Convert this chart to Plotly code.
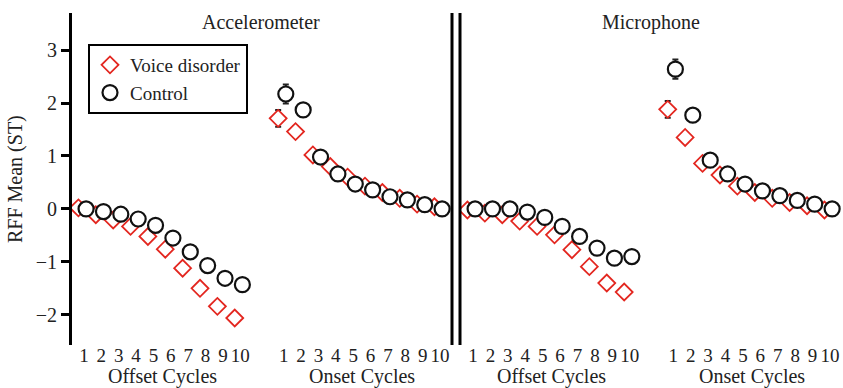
import plotly.graph_objects as go

# ---------------- data ----------------
cycles = list(range(1, 11))
cycle_labels = [str(c) for c in cycles]
y_ticks = [-2, -1, 0, 1, 2, 3]

# Accelerometer
acc_offset_vd = [0.02, -0.11, -0.21, -0.33, -0.52, -0.76, -1.12, -1.50, -1.84, -2.06]
acc_offset_ctrl = [0.0, -0.05, -0.10, -0.19, -0.31, -0.55, -0.81, -1.07, -1.31, -1.43]
acc_onset_vd = [1.71, 1.46, 1.02, 0.80, 0.60, 0.43, 0.31, 0.20, 0.09, 0.04]
acc_onset_ctrl = [2.17, 1.87, 0.98, 0.66, 0.47, 0.36, 0.23, 0.17, 0.08, 0.0]
acc_offset_vd_err = [0.03, 0.03, 0.04, 0.04, 0.05, 0.05, 0.06, 0.07, 0.07, 0.08]
acc_offset_ctrl_err = [0.03, 0.03, 0.03, 0.04, 0.04, 0.05, 0.05, 0.06, 0.06, 0.07]
acc_onset_vd_err = [0.16, 0.10, 0.07, 0.05, 0.04, 0.04, 0.03, 0.03, 0.03, 0.03]
acc_onset_ctrl_err = [0.18, 0.10, 0.07, 0.05, 0.04, 0.04, 0.03, 0.03, 0.03, 0.03]

# Microphone
mic_offset_vd = [-0.02, -0.08, -0.11, -0.23, -0.33, -0.49, -0.77, -1.09, -1.40, -1.57]
mic_offset_ctrl = [0.0, 0.0, 0.0, -0.06, -0.16, -0.33, -0.52, -0.74, -0.93, -0.90]
mic_onset_vd = [1.88, 1.35, 0.86, 0.64, 0.43, 0.31, 0.20, 0.12, 0.06, -0.02]
mic_onset_ctrl = [2.64, 1.77, 0.92, 0.66, 0.47, 0.34, 0.25, 0.16, 0.09, 0.0]
mic_offset_vd_err = [0.03, 0.03, 0.04, 0.04, 0.05, 0.05, 0.06, 0.07, 0.07, 0.08]
mic_offset_ctrl_err = [0.03, 0.03, 0.03, 0.04, 0.04, 0.05, 0.05, 0.06, 0.06, 0.07]
mic_onset_vd_err = [0.16, 0.10, 0.07, 0.05, 0.04, 0.04, 0.03, 0.03, 0.03, 0.03]
mic_onset_ctrl_err = [0.18, 0.10, 0.07, 0.05, 0.04, 0.04, 0.03, 0.03, 0.03, 0.03]

panel_titles = ["Accelerometer", "Microphone"]
group_titles = ["Offset Cycles", "Onset Cycles"]
series_names = ["Voice disorder", "Control"]

# ---------------- layout helpers ----------------
ONSET_SHIFT = 11.5
VD_DX = -0.32
CT_DX = 0.12
RED = "#e3261f"
BLACK = "#111111"
FONT = "Liberation Serif, Times New Roman, serif"
FS = 20
FS_TICK = 19
FS_LEG = 19

tick_vals = cycles + [c + ONSET_SHIFT for c in cycles]
tick_text = cycle_labels + cycle_labels

fig = go.Figure()


def add_panel(xa, ya, off_vd, off_ct, on_vd, on_ct, e_off_vd, e_off_ct, e_on_vd, e_on_ct, legend):
    x_vd = [c + VD_DX for c in cycles] + [c + ONSET_SHIFT + VD_DX for c in cycles]
    x_ct = [c + CT_DX for c in cycles] + [c + ONSET_SHIFT + CT_DX for c in cycles]
    fig.add_trace(go.Scatter(
        x=x_vd, y=off_vd + on_vd, mode="markers", name=series_names[0],
        xaxis=xa, yaxis=ya, showlegend=legend,
        marker=dict(symbol="diamond", size=13, color="white",
                    line=dict(color=RED, width=1.8)),
        error_y=dict(type="data", array=e_off_vd + e_on_vd, color="#222",
                     thickness=2, width=3),
    ))
    fig.add_trace(go.Scatter(
        x=x_ct, y=off_ct + on_ct, mode="markers", name=series_names[1],
        xaxis=xa, yaxis=ya, showlegend=legend,
        marker=dict(symbol="circle", size=15, color="white",
                    line=dict(color=BLACK, width=2.2)),
        error_y=dict(type="data", array=e_off_ct + e_on_ct, color="#222",
                     thickness=2, width=3),
    ))


add_panel("x", "y", acc_offset_vd, acc_offset_ctrl, acc_onset_vd, acc_onset_ctrl,
          acc_offset_vd_err, acc_offset_ctrl_err, acc_onset_vd_err, acc_onset_ctrl_err, True)
add_panel("x2", "y2", mic_offset_vd, mic_offset_ctrl, mic_onset_vd, mic_onset_ctrl,
          mic_offset_vd_err, mic_offset_ctrl_err, mic_onset_vd_err, mic_onset_ctrl_err, False)

W, H = 843, 388
ML, MR, MT, MB = 72, 2, 13, 43
pw = W - ML - MR
ph = H - MT - MB
d1 = (452 - ML) / pw
d2 = (460 - ML) / pw
y_range = [-2.57, 3.70]

xcommon = dict(showline=False, showgrid=False, zeroline=False, ticks="",
               tickvals=tick_vals, ticktext=tick_text, ticklabelstandoff=-3,
               tickfont=dict(family=FONT, size=FS_TICK, color="#222"))

fig.update_layout(
    width=W, height=H,
    margin=dict(l=ML, r=MR, t=MT, b=MB),
    paper_bgcolor="white", plot_bgcolor="white",
    font=dict(family=FONT, size=FS, color="#222"),
    xaxis=dict(domain=[0, d1], range=[0.309, 22.19], anchor="y", **xcommon),
    xaxis2=dict(domain=[d2, 1], range=[0.253, 22.13], anchor="y2", **xcommon),
    yaxis=dict(domain=[0, 1], range=y_range, anchor="x", showline=True,
               linecolor="black", linewidth=3, ticks="outside", ticklen=8,
               tickwidth=2.5, tickcolor="black", tickvals=y_ticks,
               showgrid=False, zeroline=False,
               tickfont=dict(family=FONT, size=FS, color="#222")),
    yaxis2=dict(domain=[0, 1], range=y_range, anchor="x2", visible=False),
    legend=dict(x=(88 - ML) / pw, y=(H - MB - 44) / ph,
                xanchor="left", yanchor="top", bgcolor="white",
                bordercolor="black", borderwidth=2,
                font=dict(family=FONT, size=FS_LEG, color="#222"),
                tracegroupgap=0),
    showlegend=True,
)

# separator double line
for xp in (d1, d2):
    fig.add_shape(type="line", xref="paper", yref="paper", x0=xp, x1=xp, y0=0, y1=1,
                  line=dict(color="black", width=3))

# panel titles and group titles
for xa, t in (("x", panel_titles[0]), ("x2", panel_titles[1])):
    fig.add_annotation(x=11.2, xref=xa, y=(H - MB - 22) / ph, yref="paper",
                       text=t, showarrow=False, xanchor="center", yanchor="middle",
                       font=dict(family=FONT, size=FS, color="#222"))
    for cx, gt in ((5.5, group_titles[0]), (5.5 + ONSET_SHIFT, group_titles[1])):
        fig.add_annotation(x=cx, xref=xa, y=-(376.5 - (H - MB)) / ph, yref="paper",
                           text=gt, showarrow=False, xanchor="center", yanchor="middle",
                           font=dict(family=FONT, size=FS, color="#222"))

# y axis title
fig.add_annotation(x=-(ML - 15) / pw, xref="paper", y=0.5, yref="paper",
                   text="RFF Mean (ST)", textangle=-90, showarrow=False,
                   xanchor="center", yanchor="middle",
                   font=dict(family=FONT, size=FS, color="#222"))

fig.write_html("out.html",
               config={"displayModeBar": False},
               post_script="document.body.style.margin='0';document.body.style.padding='0';")
